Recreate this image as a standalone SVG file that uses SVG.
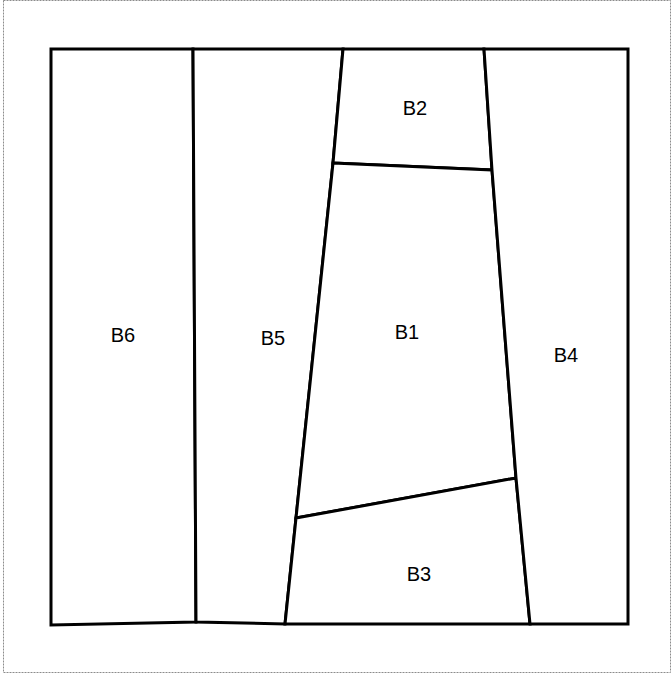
<svg xmlns="http://www.w3.org/2000/svg" width="672" height="675" viewBox="0 0 672 675">
<style>
.blk{fill:#fff;stroke:#000;stroke-width:3;stroke-linejoin:miter}
.lbl{font-family:"Liberation Sans",Arial,sans-serif;font-size:20px;fill:#000;text-anchor:middle}
.frame{fill:#fff;stroke:#8c8c8c;stroke-width:1;stroke-dasharray:2,1}
</style>
<rect class="frame" x="3.5" y="0.5" width="667" height="672"/>
<g id="B6"><polygon class="blk" points="51,49 193,49 196,622 51,625"/><text class="lbl" x="123" y="342">B6</text></g>
<g id="B5"><polygon class="blk" points="193,49 343,49 333,163 296,518 285,624 196,622"/><text class="lbl" x="273" y="345">B5</text></g>
<g id="B2"><polygon class="blk" points="343,49 484,49 492,170 333,163"/><text class="lbl" x="415" y="115">B2</text></g>
<g id="B1"><polygon class="blk" points="333,163 492,170 516,478 296,518"/><text class="lbl" x="407" y="339">B1</text></g>
<g id="B3"><polygon class="blk" points="296,518 516,478 530,624 285,624"/><text class="lbl" x="419" y="581">B3</text></g>
<g id="B4"><polygon class="blk" points="484,49 628,49 628,624 530,624 516,478 492,170"/><text class="lbl" x="566" y="362">B4</text></g>
<g id="connectors"/>
</svg>
